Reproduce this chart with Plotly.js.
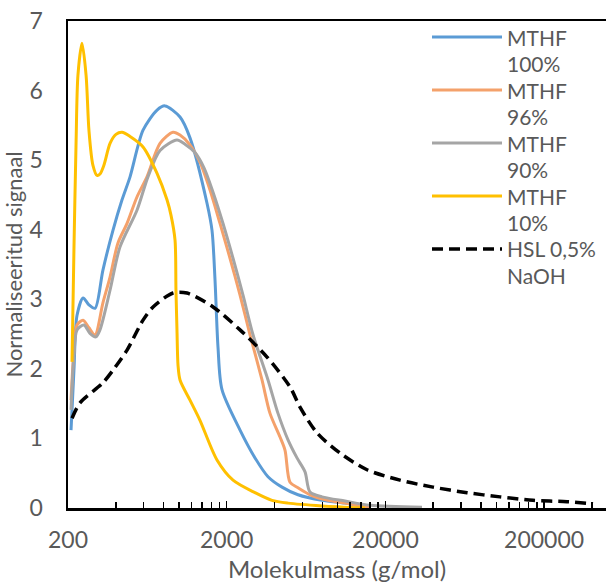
<!DOCTYPE html>
<html>
<head>
<meta charset="utf-8">
<script src="https://cdn.plot.ly/plotly-3.0.1.min.js"></script>
<style>
  html, body { margin: 0; padding: 0; background: #ffffff; }
  #chart { width: 606px; height: 583px; }
</style>
</head>
<body>
<div id="chart"></div>
<script>
// Molecular weight distributions (GPC), normalised signal vs molar mass
const seriesNames = ["MTHF 100%", "MTHF 96%", "MTHF 90%", "MTHF 10%", "HSL 0,5% NaOH"];
const seriesColors = ["#5B9BD5", "#F4A16B", "#A5A5A5", "#FFC000", "#000000"];

const mthf100X = [209, 218, 228, 249, 271, 296, 332, 384, 438, 492, 594, 728, 817, 1016, 1174, 1503, 1616, 1688, 1763, 1868, 2427, 3016, 3641, 4463, 5628, 7972, 11130, 13830];
const mthf100Y = [1.12, 1.98, 2.77, 3.02, 2.92, 2.87, 3.42, 3.99, 4.43, 4.76, 5.43, 5.72, 5.78, 5.62, 5.32, 4.38, 3.99, 3.28, 2.31, 1.70, 1.12, 0.72, 0.45, 0.30, 0.19, 0.11, 0.07, 0.03];

const mthf96X = [209, 218, 228, 249, 271, 296, 332, 368, 413, 471, 544, 629, 760, 918, 1016, 1174, 1357, 1570, 1815, 2098, 2427, 2805, 3338, 3749, 4335, 4662, 5012, 5628, 6698, 8698, 11130, 16000];
const mthf96Y = [1.55, 2.27, 2.63, 2.70, 2.59, 2.49, 2.95, 3.32, 3.81, 4.09, 4.47, 4.76, 5.24, 5.40, 5.36, 5.22, 4.97, 4.57, 4.09, 3.59, 3.06, 2.49, 1.84, 1.36, 1.02, 0.83, 0.37, 0.29, 0.19, 0.11, 0.07, 0.01];

const mthf90X = [209, 218, 228, 252, 275, 300, 318, 368, 425, 544, 638, 760, 972, 1092, 1262, 1439, 1640, 1896, 2192, 2534, 2930, 3641, 4210, 4868, 5546, 6230, 6698, 7972, 11130, 16000, 34020];
const mthf90Y = [1.41, 2.20, 2.56, 2.63, 2.51, 2.46, 2.56, 3.13, 3.75, 4.28, 4.76, 5.14, 5.29, 5.23, 5.11, 4.89, 4.54, 4.09, 3.59, 3.06, 2.49, 1.84, 1.36, 0.98, 0.72, 0.52, 0.23, 0.16, 0.10, 0.04, 0.01];

const mthf10X = [212, 218, 225, 231, 245, 260, 271, 287, 305, 318, 337, 368, 401, 438, 492, 594, 728, 841, 891, 945, 958, 972, 987, 1016, 1174, 1357, 1737, 2192, 3016, 3858, 4868, 7972, 14870];
const mthf10Y = [2.10, 3.71, 5.29, 6.22, 6.68, 6.22, 5.43, 4.93, 4.78, 4.80, 4.93, 5.24, 5.37, 5.40, 5.34, 5.19, 4.81, 4.43, 4.21, 3.85, 3.13, 2.56, 2.05, 1.84, 1.55, 1.26, 0.69, 0.40, 0.22, 0.11, 0.07, 0.03, 0.00];

const hslX = [212, 238, 332, 384, 471, 594, 687, 918, 1124, 1640, 2427, 3589, 5012, 5793, 7413, 10350, 15310, 24720, 39900, 65360, 105500, 170200, 278800, 406600];
const hslY = [1.29, 1.51, 1.80, 1.98, 2.27, 2.70, 2.89, 3.09, 3.09, 2.89, 2.56, 2.17, 1.74, 1.45, 1.08, 0.79, 0.55, 0.40, 0.30, 0.22, 0.16, 0.11, 0.09, 0.06];

const xTickVals = [200, 2000, 20000, 200000];
const xTickText = ["200", "2000", "20000", "200000"];
const yTickVals = [0, 1, 2, 3, 4, 5, 6, 7];

const xTitle = "Molekulmass (g/mol)";
const yTitle = "Normaliseeritud signaal";

// minor ticks at 2..9 times each labelled decade start
const minorTicks = [];
xTickVals.forEach(function (base) {
  for (let k = 2; k <= 9; k++) minorTicks.push(base * k);
});

const xs = [mthf100X, mthf96X, mthf90X, mthf10X, hslX];
const ys = [mthf100Y, mthf96Y, mthf90Y, mthf10Y, hslY];
const dashes = ["solid", "solid", "solid", "solid", "11px,6px"];

const traces = seriesNames.map(function (name, i) {
  return {
    type: "scatter",
    mode: "lines",
    name: name,
    x: xs[i],
    y: ys[i],
    showlegend: false,
    line: { color: seriesColors[i], width: i === 4 ? 3.5 : 3, shape: "spline", smoothing: 0.8, dash: dashes[i] },
    hoverinfo: "x+y+name"
  };
});

// plot area geometry (pixels)
const W = 606, H = 583;
const M = { l: 68, r: 0, t: 21, b: 75 };
const plotW = W - M.l - M.r;
const plotH = H - M.t - M.b;
const px2x = function (px) { return (px - M.l) / plotW; };
const py2y = function (py) { return (H - M.b - py) / plotH; };

const textColor = "#595959";
const fontFamily = "Lato, 'Liberation Sans', sans-serif";

// hand-built legend: line sample plus two-line label, one text line every 26.5 px
const shapes = [];
const annotations = [];
const legendTop = 37, legendStep = 26.5;
seriesNames.forEach(function (name, i) {
  const rowY = legendTop + 2 * legendStep * i;
  shapes.push({
    type: "line", xref: "paper", yref: "paper",
    x0: px2x(432), x1: px2x(502), y0: py2y(rowY), y1: py2y(rowY),
    line: { color: seriesColors[i], width: i === 4 ? 3.5 : 3, dash: dashes[i] }
  });
  const cut = name.lastIndexOf(" ");
  const lines = [name.slice(0, cut), name.slice(cut + 1)];
  lines.forEach(function (txt, j) {
    annotations.push({
      xref: "paper", yref: "paper",
      x: px2x(506), y: py2y(rowY + legendStep * j),
      xanchor: "left", yanchor: "middle",
      borderpad: 0,
      text: txt, showarrow: false,
      font: { family: fontFamily, size: 21, color: textColor }
    });
  });
});

const layout = {
  width: W, height: H,
  margin: M,
  paper_bgcolor: "#ffffff",
  plot_bgcolor: "#ffffff",
  font: { family: fontFamily, size: 22, color: textColor },
  xaxis: {
    type: "log",
    range: [Math.log10(200), 5.691],
    tickmode: "array",
    tickvals: xTickVals,
    ticktext: xTickText,
    ticks: "inside",
    ticklen: 7,
    tickwidth: 1.5,
    tickcolor: "#000000",
    minor: { tickmode: "array", tickvals: minorTicks, ticks: "inside", ticklen: 6, tickwidth: 1.5, tickcolor: "#000000", showgrid: false },
    showline: true, linecolor: "#000000", linewidth: 2.5, mirror: true,
    showgrid: false, zeroline: false,
    ticklabelstandoff: 10,
    tickfont: { family: fontFamily, size: 23, color: textColor },
    title: { text: xTitle, font: { family: fontFamily, size: 24, color: textColor }, standoff: 10 }
  },
  yaxis: {
    range: [0, 7],
    tickmode: "array",
    tickvals: yTickVals,
    ticks: "",
    showline: true, linecolor: "#000000", linewidth: 2.5,
    showgrid: false, zeroline: false,
    ticklabelstandoff: 18,
    tickfont: { family: fontFamily, size: 23, color: textColor },
    title: { text: yTitle, font: { family: fontFamily, size: 22, color: textColor }, standoff: 6 }
  },
  shapes: shapes,
  annotations: annotations
};

Plotly.newPlot("chart", traces, layout, { displayModeBar: false, staticPlot: true });
</script>
</body>
</html>
